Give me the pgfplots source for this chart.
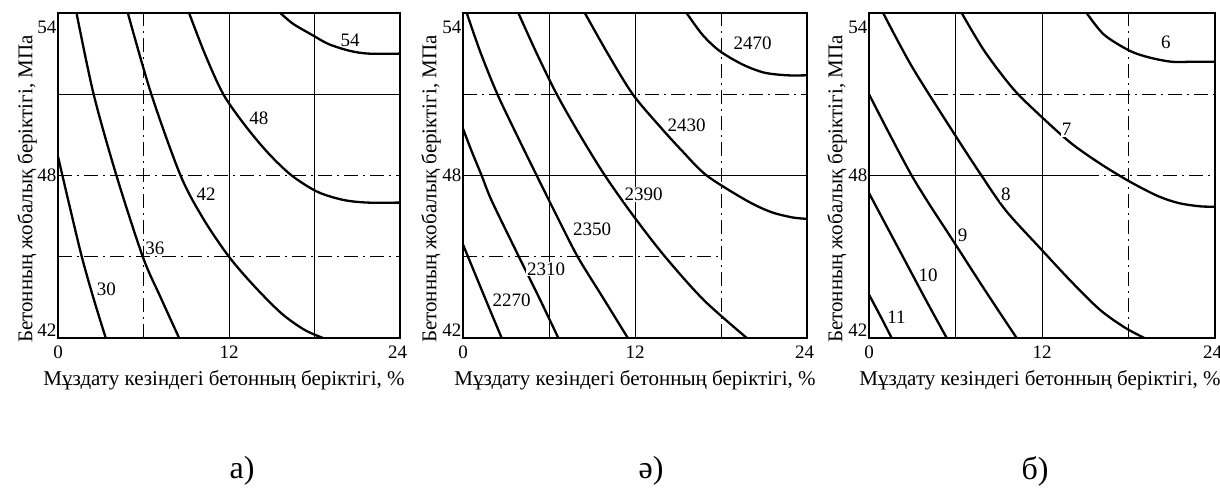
\documentclass[border=0pt]{standalone}
\usepackage{fontspec}
\setmainfont{Liberation Serif}
\usepackage{pgfplots}
\pgfplotsset{compat=1.18}
\pgfplotsset{
  panel/.style={
    scale only axis, width=#1, height=325pt,
    xmin=0, xmax=24, ymin=42, ymax=54,
    xtick={0,12,24}, ytick={42,48,54},
    xticklabels={0,12,\makebox[0pt][r]{24\hspace{-7pt}}},
    yticklabels={\raisebox{8pt}[\height][\depth]{42},48,\raisebox{-14pt}[\height][\depth]{54}},
    major tick length=0pt,
    axis line style={line width=1.6pt},
    tick label style={font=\fontsize{19}{19}\selectfont},
    xticklabel style={yshift=-4pt},
    yticklabel style={xshift=2pt},
    clip=true,
    anchor=south west,
  },
  cv/.style={black, line width=2.3pt, smooth, tension=0.5, no marks},
}
\tikzset{
  gs/.style={black, line width=0.8pt},
  gd/.style={black, line width=0.8pt, dash pattern=on 14pt off 5pt on 2pt off 5pt},
  lab/.style={font=\fontsize{19}{19}\selectfont, fill=white, inner sep=1pt},
}
\begin{document}
\begin{tikzpicture}[x=1pt,y=1pt]
\path[use as bounding box] (0,0) rectangle (1220,488);
% ---------------- panel a
\begin{axis}[panel=342pt, at={(58pt,150pt)}]
\draw[gd] (axis cs:6,42) -- (axis cs:6,54);
\draw[gs] (axis cs:12,42) -- (axis cs:12,54);
\draw[gs] (axis cs:18,42) -- (axis cs:18,54);
\draw[gs] (axis cs:0,51) -- (axis cs:24,51);
\draw[gd] (axis cs:0,48) -- (axis cs:24,48);
\draw[gd] (axis cs:0,45) -- (axis cs:24,45);
\addplot[cv] coordinates {(15.6,54) (16.5,53.6) (17.8,53.2) (19,52.85) (20.5,52.6) (21.8,52.5) (24,52.5)};
\addplot[cv] coordinates {(9.2,54) (10.3,52.5) (11.6,51) (13.2,49.8) (14.8,48.8) (16.4,48) (18.2,47.4) (20,47.1) (21.7,47.0) (24,47.0)};
\addplot[cv] coordinates {(4.9,54) (6.55,51) (8.6,48) (10.2,46.4) (12,45) (13.8,43.9) (15.7,42.9) (17.3,42.3) (18.6,42.0)};
\addplot[cv] coordinates {(1.3,54) (2.5,51) (4.1,48) (5.95,45) (7.2,43.5) (8.5,42)};
\addplot[cv] coordinates {(0,48.7) (0.8,46.9) (1.67,45) (2.5,43.45) (3.35,42)};
\node[lab] at (axis cs:20.5,53.0) {54};
\node[lab] at (axis cs:14.1,50.1) {48};
\node[lab] at (axis cs:10.4,47.3) {42};
\node[lab] at (axis cs:6.8,45.3) {36};
\node[lab] at (axis cs:3.4,43.8) {30};
\end{axis}
% ---------------- panel ə
\begin{axis}[panel=344pt, at={(463pt,150pt)}]
\draw[gs] (axis cs:6,42) -- (axis cs:6,54);
\draw[gs] (axis cs:12,42) -- (axis cs:12,54);
\draw[gd] (axis cs:18,42) -- (axis cs:18,54);
\draw[gd] (axis cs:0,51) -- (axis cs:24,51);
\draw[gs] (axis cs:0,48) -- (axis cs:24,48);
\draw[gd] (axis cs:0,45) -- (axis cs:18,45);
\addplot[cv] coordinates {(15.6,54) (16.7,53.2) (17.9,52.6) (19.5,52.1) (21,51.8) (22.6,51.7) (24,51.7)};
\addplot[cv] coordinates {(8.5,54) (10.1,52.5) (11.84,51) (13.75,49.8) (15.3,48.9) (17.0,48) (19.8,47.07) (21.5,46.65) (23,46.45) (24,46.4)};
\addplot[cv] coordinates {(3.86,54) (5.15,52.5) (6.54,51) (8.15,49.5) (9.9,48) (11.9,46.5) (14.1,45) (16.8,43.4) (19.8,42)};
\addplot[cv] coordinates {(0.26,54) (1.25,52.5) (2.4,51) (3.75,49.5) (5.14,48) (6.55,46.5) (8.0,45) (9.75,43.5) (11.5,42)};
\addplot[cv] coordinates {(0,49.73) (0.6,48.9) (1.3,48) (2.0,47.07) (3.9,45) (5.3,43.5) (6.65,42)};
\addplot[cv] coordinates {(0,45.45) (0.7,44.55) (1.4,43.65) (2.05,42.82) (2.7,42)};
\node[lab] at (axis cs:20.2,52.9) {2470};
\node[lab] at (axis cs:15.6,49.85) {2430};
\node[lab] at (axis cs:12.6,47.3) {2390};
\node[lab] at (axis cs:9.0,46.0) {2350};
\node[lab] at (axis cs:5.8,44.55) {2310};
\node[lab] at (axis cs:3.4,43.4) {2270};
\end{axis}
% ---------------- panel б
\begin{axis}[panel=346pt, at={(869pt,150pt)}]
\draw[gs] (axis cs:6,42) -- (axis cs:6,54);
\draw[gs] (axis cs:12,42) -- (axis cs:12,54);
\draw[gd] (axis cs:18,42) -- (axis cs:18,54);
\draw[gd] (axis cs:4.5,51) -- (axis cs:24,51);
\draw[gs] (axis cs:0,48) -- (axis cs:15,48);
\draw[gd] (axis cs:15,48) -- (axis cs:24,48);
\addplot[cv] coordinates {(15.1,54) (16.3,53.2) (18.1,52.6) (19.5,52.35) (21,52.2) (22.5,52.2) (24,52.2)};
\addplot[cv] coordinates {(6.43,54) (8,52.6) (10,51.2) (11.9,50.2) (14,49.2) (16,48.45) (18,47.8) (20,47.25) (21.5,46.98) (23,46.86) (24,46.85)};
\addplot[cv] coordinates {(0.98,54) (3,52) (5.96,49.5) (7.8,48) (9.5,46.7) (11.9,45.3) (14,44.1) (16,43.05) (17.7,42.4) (19.1,42)};
\addplot[cv] coordinates {(0,51) (1.5,49.45) (2.96,48) (4.23,46.9) (5.7,45.7) (8,43.8) (10.24,42)};
\addplot[cv] coordinates {(0,47.35) (1.3,46.05) (2.7,44.65) (4,43.35) (5.39,42)};
\addplot[cv] coordinates {(0,43.6) (0.8,42.8) (1.57,42)};
\node[lab] at (axis cs:20.6,52.9) {6};
\node[lab] at (axis cs:13.7,49.7) {7};
\node[lab] at (axis cs:9.5,47.3) {8};
\node[lab] at (axis cs:6.5,45.8) {9};
\node[lab] at (axis cs:4.1,44.3) {10};
\node[lab] at (axis cs:1.9,42.75) {11};
\end{axis}
% ---------------- labels
\foreach \cx/\yx in {224/27, 635/431, 1040/837}{
  \node[font=\fontsize{21}{21}\selectfont] at (\cx,108) {Мұздату кезіндегі бетонның беріктігі, \%};
  \node[font=\fontsize{21}{21}\selectfont, rotate=90] at (\yx,299) {Бетонның жобалық беріктігі, МПа};
}
\node[font=\fontsize{32}{32}\selectfont] at (242,17) {а)};
\node[font=\fontsize{32}{32}\selectfont] at (651,17) {ə)};
\node[font=\fontsize{32}{32}\selectfont] at (1035,17) {б)};
\end{tikzpicture}
\end{document}
